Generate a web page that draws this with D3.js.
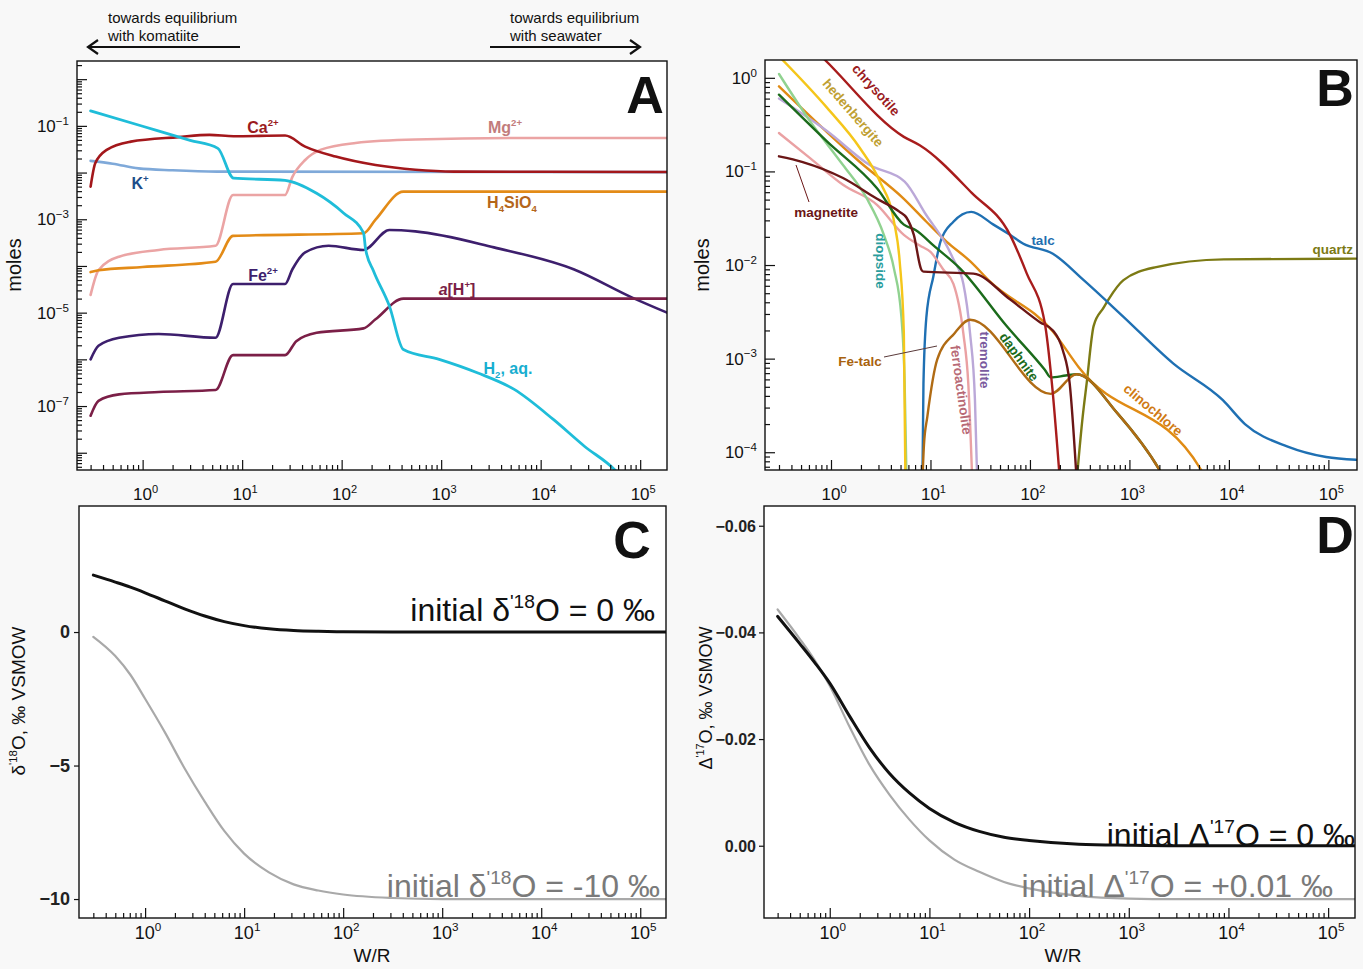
<!DOCTYPE html>
<html><head><meta charset="utf-8">
<script src="https://cdn.jsdelivr.net/npm/d3@7"></script>
<style>body{margin:0;background:#f8f8f8;} svg{display:block;}</style>
</head><body>
<svg id="chart" width="1363" height="969"></svg>
<script>
// ---------------- DATA (W/R, value) ----------------
// Panel A : dissolved species, moles
const A_H2   = [[0.30,0.21],[1.0,0.098],[3.0,0.049],[5.7,0.033],[8.2,0.0076],[27,0.0068],[56,0.0036],[105,0.00135],[166,5.1e-4],[174,2.3e-4],[209,7.8e-5],[302,1.38e-5],[417,1.62e-6],[955,1.0e-6],[2340,5.1e-7],[5370,2.3e-7],[13500,5.1e-8],[27500,1.38e-8],[55000,4.4e-9],[80000,1.8e-9]];
const A_Ca   = [[0.30,5.0e-3],[0.334,1.58e-2],[0.44,3.1e-2],[0.76,4.6e-2],[2.28,5.75e-2],[4.7,6.4e-2],[8.2,6.0e-2],[27,6.2e-2],[43,3.6e-2],[87,2.2e-2],[219,1.45e-2],[550,1.15e-2],[1350,1.05e-2],[186000,1.03e-2]];
const A_Mg   = [[0.30,2.4e-5],[0.36,8.1e-5],[0.58,1.58e-4],[1.45,2.2e-4],[5.4,2.7e-4],[8.1,3.3e-3],[27,3.3e-3],[32,8.1e-3],[43,1.86e-2],[62,3.1e-2],[138,4.3e-2],[550,5.1e-2],[8510,5.5e-2],[186000,5.5e-2]];
const A_K    = [[0.30,1.78e-2],[0.5,1.55e-2],[0.91,1.23e-2],[2,1.12e-2],[5.6,1.05e-2],[186000,1.02e-2]];
const A_SiO4 = [[0.30,7.4e-5],[0.36,8.1e-5],[1.0,9.5e-5],[5.4,1.23e-4],[8.1,4.4e-4],[166,5.0e-4],[219,9.8e-4],[417,3.9e-3],[186000,3.9e-3]];
const A_Fe   = [[0.30,1.0e-6],[0.36,1.95e-6],[0.58,2.9e-6],[1.45,3.5e-6],[5.4,2.9e-6],[8.1,4.1e-5],[27,4.1e-5],[32,8.5e-5],[43,1.95e-4],[74,2.7e-4],[166,2.2e-4],[302,5.9e-4],[550,5.5e-4],[3390,2.5e-4],[21400,8.5e-5],[83200,2.1e-5],[186000,1.0e-5]];
const A_aH   = [[0.30,6.2e-8],[0.36,1.29e-7],[0.58,1.78e-7],[1.45,2.0e-7],[5.4,2.2e-7],[8.1,1.23e-6],[27,1.23e-6],[35,2.45e-6],[56,3.7e-6],[166,4.6e-6],[219,7.2e-6],[417,2.0e-5],[186000,2.0e-5]];

// Panel B : minerals, moles
const B_chrysotile = [[0.30,4.7],[0.87,1.55],[5.4,0.234],[7.8,0.19],[26,0.059],[63,0.021],[93,8.1e-3],[141,2.4e-3],[166,5.5e-4],[200,5e-5]];
const B_hedenbergite = [[0.30,1.7],[0.91,0.48],[1.95,0.178],[3.1,0.078],[4.3,0.029],[4.9,0.011],[5.4,1.86e-3],[5.6,5e-5]];
const B_diopside = [[0.30,1.1],[0.62,0.34],[1.32,0.117],[2.3,0.051],[3.4,0.021],[4.3,9.1e-3],[5.1,2.8e-3],[5.5,5.5e-4],[5.75,5e-5]];
const B_clinochlore = [[0.30,0.81],[1.95,0.126],[5.4,0.051],[9.1,0.029],[14.5,0.0178],[25,0.011],[40,6.6e-3],[170,1.95e-3],[309,8.1e-4],[5250,6.5e-5],[6000,5.0e-5]];
const B_daphnite = [[0.30,0.66],[0.91,0.209],[2.9,0.066],[5.4,0.027],[7.2,0.0234],[10.7,0.0162],[20,9.1e-3],[58,2.24e-3],[141,7.6e-4],[162,6.3e-4],[229,6.6e-4],[295,6.8e-4],[759,2.6e-4],[2000,6.5e-5],[2300,5.0e-5]];
const B_Fetalc = [[8.3,5e-5],[8.6,1.2e-4],[9.3,2.4e-4],[11.7,9.8e-4],[17.4,1.86e-3],[25,2.6e-3],[162,4.2e-4],[295,6.8e-4],[759,2.6e-4],[2000,6.5e-5],[2300,5.0e-5]];
const B_tremolite = [[0.30,0.60],[0.91,0.27],[2.45,0.117],[5.5,0.078],[9.1,0.034],[14.5,0.0162],[17,0.0115],[21.4,6.3e-3],[25,1.86e-3],[28,3.6e-4],[29.5,5e-5]];
const B_ferroactinolite = [[0.30,0.257],[0.62,0.138],[1.32,0.072],[2.9,0.044],[5.4,0.021],[7.8,0.0162],[10,0.0138],[13.5,8.9e-3],[17,6.3e-3],[21.4,1.86e-3],[24,5.4e-4],[26.3,5e-5]];
const B_magnetite = [[0.30,0.145],[0.52,0.126],[1.32,0.085],[2.9,0.051],[4.9,0.037],[5.75,0.032],[6.8,0.021],[8.1,8.9e-3],[8.5,8.5e-3],[27,8.1e-3],[63,4.3e-3],[126,2.45e-3],[170,2.0e-3],[214,1.23e-3],[251,5.4e-4],[295,5e-5]];
const B_talc = [[8.3,5e-5],[8.5,5.4e-4],[9.1,2.8e-3],[10.7,7.6e-3],[12.6,0.0178],[17,0.029],[25.7,0.037],[43,0.027],[63,0.021],[85,0.017],[170,0.0132],[347,6.9e-3],[871,2.8e-3],[2750,8.9e-4],[8700,3.6e-4],[14500,2.0e-4],[39000,1.15e-4],[95000,8.9e-5],[190000,8.3e-5]];
const B_quartz = [[295,5e-5],[339,2.4e-4],[372,5.5e-4],[437,2.24e-3],[550,3.5e-3],[617,4.3e-3],[871,6.9e-3],[1860,9.5e-3],[8900,0.0115],[190000,0.0117]];

// Panel C : delta'18O (permil VSMOW)
const C_init0   = [[0.30,2.13],[0.5,1.87],[0.71,1.68],[1.0,1.47],[1.58,1.17],[2.5,0.87],[4.0,0.60],[6.3,0.39],[10,0.24],[17.8,0.12],[31.6,0.055],[56,0.025],[100,0.01],[316,0.002],[1000,0],[186000,0]];
const C_initM10 = [[0.30,-0.18],[0.5,-0.9],[0.71,-1.6],[1.0,-2.5],[1.58,-3.75],[2.5,-5.1],[4.0,-6.35],[6.3,-7.45],[10,-8.3],[17.8,-9.0],[31.6,-9.45],[56,-9.68],[100,-9.83],[316,-9.96],[1000,-10],[186000,-10]];
// Panel D : Delta'17O (permil VSMOW)
const D_init0   = [[0.30,-0.0430],[0.5,-0.0379],[0.71,-0.0343],[1.0,-0.0305],[1.58,-0.0243],[2.5,-0.0184],[4.0,-0.0135],[6.3,-0.0099],[10,-0.0070],[17.8,-0.0044],[31.6,-0.0027],[56,-0.0016],[100,-0.0010],[316,-0.0003],[1000,-0.0001],[3000,0],[186000,0]];
const D_init001 = [[0.30,-0.0443],[0.5,-0.0388],[0.71,-0.0347],[1.0,-0.0300],[1.58,-0.0223],[2.5,-0.0152],[4.0,-0.0095],[6.3,-0.0049],[10,-0.0010],[17.8,0.0026],[31.6,0.0049],[56,0.0068],[100,0.0080],[316,0.0094],[1000,0.0099],[3000,0.0100],[186000,0.0100]];

// tick label lists
const xTickExps = [0,1,2,3,4,5];
const yTickExpsA = [-1,-3,-5,-7];
const yTickExpsB = [0,-1,-2,-3,-4];
const yTicksC = [0,-5,-10];
const yTicksD = [-0.06,-0.04,-0.02,0.00];

// ---------------- LAYOUT ----------------
const SANS = "'Liberation Sans', Arial, sans-serif";
const NARROW = "'Liberation Sans Narrow', 'Arial Narrow', 'Liberation Sans', sans-serif";
const PA = {l:77,r:667,t:61,b:470};
const PB = {l:765,r:1357,t:60,b:470};
const PC = {l:79,r:666,t:506,b:918};
const PD = {l:764,r:1355,t:506,b:918};

const xA = d3.scaleLog().domain([0.219,1.86e5]).range([PA.l,PA.r]);
const yA = d3.scaleLog().domain([4.27e-9,2.45]).range([PA.b,PA.t]);
const xB = d3.scaleLog().domain([0.217,1.94e5]).range([PB.l,PB.r]);
const yB = d3.scaleLog().domain([6.46e-5,1.55]).range([PB.b,PB.t]);
const xC = d3.scaleLog().domain([0.215,1.82e5]).range([PC.l,PC.r]);
const yC = d3.scaleLinear().domain([-10.71,4.72]).range([PC.b,PC.t]);
const xD = d3.scaleLog().domain([0.219,1.86e5]).range([PD.l,PD.r]);
const yD = d3.scaleLinear().domain([0.01355,-0.0637]).range([PD.b,PD.t]);

const svg = d3.select("#chart");
svg.append("rect").attr("width",1363).attr("height",969).attr("fill","#f8f8f8");

function rich(parent, x, y, parts, o) {
  const t = parent.append("text").attr("x",x).attr("y",y)
    .attr("font-family",o.family||SANS).attr("font-size",o.size)
    .attr("font-weight",o.weight||"normal").attr("fill",o.fill||"#111")
    .attr("text-anchor",o.anchor||"start");
  if (o.transform) t.attr("transform",o.transform);
  const ratio = o.ratio || 0.6;
  let cur = 0;
  parts.forEach(([s,k])=>{
    const off = k==="sup" ? -o.size*0.42 : k==="sub" ? o.size*0.28 : 0;
    const ts = t.append("tspan").attr("dy", off-cur).text(s);
    if (k==="sup"||k==="sub") ts.attr("font-size", o.size*ratio);
    if (k==="i") ts.attr("font-style","italic");
    cur = off;
  });
  return t;
}
function expStr(e){ return e<0 ? "\u2212"+(-e) : String(e); }

function panel(P, id) {
  const g = svg.append("g");
  g.append("rect").attr("x",P.l).attr("y",P.t).attr("width",P.r-P.l).attr("height",P.b-P.t).attr("fill","#fff");
  svg.append("clipPath").attr("id",id).append("rect").attr("x",P.l).attr("y",P.t).attr("width",P.r-P.l).attr("height",P.b-P.t);
  const lines = g.append("g").attr("clip-path",`url(#${id})`);
  return {g, lines};
}
function frame(g,P){
  g.append("rect").attr("x",P.l).attr("y",P.t).attr("width",P.r-P.l).attr("height",P.b-P.t)
   .attr("fill","none").attr("stroke","#111").attr("stroke-width",1.4);
}
function logValues(dom){
  const majors=[],minors=[];
  const lo=Math.min(...dom), hi=Math.max(...dom);
  for(let e=-10;e<=6;e++) for(let m=1;m<10;m++){ const v=m*Math.pow(10,e); if(v<lo||v>hi) continue; (m===1?majors:minors).push(v); }
  return {majors,minors};
}
function styleAxis(s){ s.select(".domain").remove(); s.selectAll("line").attr("stroke","#111").attr("stroke-width",1.2); }
function logXTicks(g,x,P){
  const {majors,minors}=logValues(x.domain());
  g.append("g").attr("transform",`translate(0,${P.b})`).call(d3.axisBottom(x).tickValues(majors).tickSize(-10).tickFormat("")).call(styleAxis);
  g.append("g").attr("transform",`translate(0,${P.b})`).call(d3.axisBottom(x).tickValues(minors).tickSize(-5).tickFormat("")).call(styleAxis);
}
function logYTicks(g,y,P){
  const {majors,minors}=logValues(y.domain());
  g.append("g").attr("transform",`translate(${P.l},0)`).call(d3.axisLeft(y).tickValues(majors).tickSize(-10).tickFormat("")).call(styleAxis);
  g.append("g").attr("transform",`translate(${P.l},0)`).call(d3.axisLeft(y).tickValues(minors).tickSize(-5).tickFormat("")).call(styleAxis);
}
function xLabels(g,x,yPix,family,size){
  xTickExps.forEach(e=>{
    rich(g, x(Math.pow(10,e))+3, yPix, [["10",""],[expStr(e),"sup"]], {size:size, family:family, anchor:"middle", fill:"#111", ratio:0.65});
  });
}
function drawLines(layer,x,y,series,curve){
  const line = d3.line().x(d=>x(d[0])).y(d=>y(d[1])).curve(curve||d3.curveMonotoneX);
  series.forEach(s=>{
    layer.append("path").datum(s.data).attr("d",line).attr("fill","none")
      .attr("stroke",s.color).attr("stroke-width",s.w||2.4).attr("stroke-linejoin","round").attr("stroke-linecap","round");
  });
}

// ---------------- TOP ANNOTATION ----------------
const ann = svg.append("g").attr("font-family",SANS).attr("font-size",15).attr("fill","#111");
ann.append("text").attr("x",108).attr("y",23).text("towards equilibrium");
ann.append("text").attr("x",108).attr("y",41).text("with komatiite");
ann.append("text").attr("x",510).attr("y",23).text("towards equilibrium");
ann.append("text").attr("x",510).attr("y",41).text("with seawater");
ann.append("line").attr("x1",240).attr("x2",88).attr("y1",47).attr("y2",47).attr("stroke","#111").attr("stroke-width",2.2);
ann.append("polyline").attr("points","98,40 88,47 98,54").attr("fill","none").attr("stroke","#111").attr("stroke-width",2.2);
ann.append("line").attr("x1",490).attr("x2",640).attr("y1",47).attr("y2",47).attr("stroke","#111").attr("stroke-width",2.2);
ann.append("polyline").attr("points","630,40 640,47 630,54").attr("fill","none").attr("stroke","#111").attr("stroke-width",2.2);

// ---------------- PANEL A ----------------
{
  const {g,lines}=panel(PA,"clipA");
  drawLines(lines,xA,yA,[
    {data:A_K,color:"#7fa9d9",w:2.6},
    {data:A_Mg,color:"#eba4a4",w:2.6},
    {data:A_SiO4,color:"#e38b17",w:2.6},
    {data:A_Ca,color:"#a3171b",w:2.6},
    {data:A_Fe,color:"#3d1f6d",w:2.6},
    {data:A_aH,color:"#7b1f47",w:2.6},
    {data:A_H2,color:"#1fbdd9",w:2.8}
  ]);
  logXTicks(g,xA,PA); logYTicks(g,yA,PA); frame(g,PA);
  xLabels(g,xA,500,SANS,17);
  yTickExpsA.forEach(e=>rich(g,69,yA(Math.pow(10,e))+6,[["10",""],[expStr(e),"sup"]],{size:17,anchor:"end",ratio:0.68}));
  g.append("text").attr("transform",`translate(21,${265}) rotate(-90)`).attr("text-anchor","middle")
    .attr("font-family",SANS).attr("font-size",20).attr("fill","#111").text("moles");
  const L={size:16,weight:"bold"};
  rich(g,263,133,[["Ca",""],["2+","sup"]],{...L,fill:"#9b1b1e",anchor:"middle"});
  rich(g,505,133,[["Mg",""],["2+","sup"]],{...L,fill:"#c27c7c",anchor:"middle"});
  rich(g,140,189,[["K",""],["+","sup"]],{...L,fill:"#1d4e89",anchor:"middle"});
  rich(g,512,208,[["H",""],["4","sub"],["SiO",""],["4","sub"]],{...L,fill:"#b5661a",anchor:"middle"});
  rich(g,263,281,[["Fe",""],["2+","sup"]],{...L,fill:"#3d1f6d",anchor:"middle"});
  rich(g,457,295,[["a","i"],["[H",""],["+","sup"],["]",""]],{...L,fill:"#7b1f47",anchor:"middle"});
  rich(g,508,374,[["H",""],["2","sub"],[", aq.",""]],{...L,fill:"#17aed0",anchor:"middle"});
  g.append("text").attr("x",645).attr("y",113).attr("text-anchor","middle").attr("font-family",SANS)
    .attr("font-weight","bold").attr("font-size",52).attr("fill","#111").text("A");
}

// ---------------- PANEL B ----------------
{
  const {g,lines}=panel(PB,"clipB");
  drawLines(lines,xB,yB,[
    {data:B_quartz,color:"#7c7a14"},
    {data:B_talc,color:"#1f70b3"},
    {data:B_clinochlore,color:"#e08b14"},
    {data:B_ferroactinolite,color:"#eaa1a3"},
    {data:B_tremolite,color:"#bba8d8"},
    {data:B_diopside,color:"#90d290"},
    {data:B_hedenbergite,color:"#f5c61a"},
    {data:B_daphnite,color:"#1b6b1b"},
    {data:B_Fetalc,color:"#b06b14"},
    {data:B_magnetite,color:"#6b1616"},
    {data:B_chrysotile,color:"#a81c1c"}
  ]);
  logXTicks(g,xB,PB); logYTicks(g,yB,PB); frame(g,PB);
  xLabels(g,xB,500,SANS,17);
  yTickExpsB.forEach(e=>rich(g,757,yB(Math.pow(10,e))+6,[["10",""],[expStr(e),"sup"]],{size:17,anchor:"end",ratio:0.68}));
  g.append("text").attr("transform",`translate(709,${265}) rotate(-90)`).attr("text-anchor","middle")
    .attr("font-family",SANS).attr("font-size",20).attr("fill","#111").text("moles");
  const lab=(txt,x,y,rot,fill,anchor)=>g.append("text").attr("transform",`translate(${x},${y}) rotate(${rot})`)
    .attr("text-anchor",anchor||"middle").attr("dominant-baseline","central").attr("font-family",SANS)
    .attr("font-weight","bold").attr("font-size",13.5).attr("fill",fill).text(txt);
  lab("chrysotile",876,90,48,"#9b1b1e");
  lab("hedenbergite",853,113,49,"#bfa033");
  lab("magnetite",826,212,0,"#6b1616");
  lab("diopside",880,261,90,"#2a9d9d");
  lab("talc",1043,240,0,"#1f6fb0");
  lab("quartz",1353,249,0,"#7c7a14","end");
  lab("daphnite",1019,357,54,"#1b6b1b");
  lab("tremolite",984,360,90,"#7a5a9e");
  lab("ferroactinolite",961,390,82,"#b86a76");
  lab("Fe-talc",860,361,0,"#a8620e");
  lab("clinochlore",1153,410,40,"#d07a12");
  g.append("line").attr("x1",796).attr("y1",165).attr("x2",809).attr("y2",202).attr("stroke","#6b1616").attr("stroke-width",1);
  g.append("line").attr("x1",884).attr("y1",357).attr("x2",937).attr("y2",346).attr("stroke","#5a3a3a").attr("stroke-width",1);
  g.append("text").attr("x",1335).attr("y",106).attr("text-anchor","middle").attr("font-family",SANS)
    .attr("font-weight","bold").attr("font-size",52).attr("fill","#111").text("B");
}

// ---------------- PANEL C ----------------
{
  const {g,lines}=panel(PC,"clipC");
  drawLines(lines,xC,yC,[
    {data:C_initM10,color:"#a9a9a9",w:2.2},
    {data:C_init0,color:"#111",w:3}
  ]);
  logXTicks(g,xC,PC); frame(g,PC);
  g.append("g").attr("transform",`translate(${PC.l},0)`).call(d3.axisLeft(yC).tickValues(yTicksC).tickSize(5).tickFormat("")).call(styleAxis);
  yTicksC.forEach(v=>g.append("text").attr("x",PC.l-9).attr("y",yC(v)+6).attr("text-anchor","end")
    .attr("font-family",NARROW).attr("font-weight","bold").attr("font-size",18).attr("fill","#222").text(v<0?"\u2212"+(-v):v));
  xLabels(g,xC,939,NARROW,18);
  g.append("text").attr("x",372).attr("y",962).attr("text-anchor","middle").attr("font-family",NARROW).attr("font-size",19).attr("fill","#111").text("W/R");
  rich(g,25,701,[["\u03b4",""],["'18","sup"],["O, \u2030 VSMOW",""]],{size:19,family:NARROW,anchor:"middle",transform:"rotate(-90,25,701)"});
  rich(g,655,621,[["initial \u03b4",""],["'18","sup"],["O = 0 \u2030",""]],{size:32,family:NARROW,anchor:"end",fill:"#111"});
  rich(g,660,897,[["initial \u03b4",""],["'18","sup"],["O = -10 \u2030",""]],{size:32,family:NARROW,anchor:"end",fill:"#7a7a7a"});
  g.append("text").attr("x",632).attr("y",558).attr("text-anchor","middle").attr("font-family",NARROW)
    .attr("font-weight","bold").attr("font-size",52).attr("fill","#111").text("C");
}

// ---------------- PANEL D ----------------
{
  const {g,lines}=panel(PD,"clipD");
  drawLines(lines,xD,yD,[
    {data:D_init001,color:"#a9a9a9",w:2.2},
    {data:D_init0,color:"#111",w:3}
  ]);
  logXTicks(g,xD,PD); frame(g,PD);
  g.append("g").attr("transform",`translate(${PD.l},0)`).call(d3.axisLeft(yD).tickValues(yTicksD).tickSize(5).tickFormat("")).call(styleAxis);
  yTicksD.forEach(v=>g.append("text").attr("x",PD.l-8).attr("y",yD(v)+6).attr("text-anchor","end")
    .attr("font-family",NARROW).attr("font-weight","bold").attr("font-size",16).attr("fill","#222")
    .text(v<0?"\u2212"+(-v).toFixed(2):v.toFixed(2)));
  xLabels(g,xD,939,NARROW,18);
  g.append("text").attr("x",1063).attr("y",962).attr("text-anchor","middle").attr("font-family",NARROW).attr("font-size",19).attr("fill","#111").text("W/R");
  rich(g,712,698,[["\u0394",""],["'17","sup"],["O, \u2030 VSMOW",""]],{size:18,family:NARROW,anchor:"middle",transform:"rotate(-90,712,698)"});
  rich(g,1355,846,[["initial \u0394",""],["'17","sup"],["O = 0 \u2030",""]],{size:32,family:NARROW,anchor:"end",fill:"#111"});
  rich(g,1333,897,[["initial \u0394",""],["'17","sup"],["O = +0.01 \u2030",""]],{size:32,family:NARROW,anchor:"end",fill:"#7a7a7a"});
  g.append("text").attr("x",1335).attr("y",553).attr("text-anchor","middle").attr("font-family",NARROW)
    .attr("font-weight","bold").attr("font-size",52).attr("fill","#111").text("D");
}
</script>
</body></html>
